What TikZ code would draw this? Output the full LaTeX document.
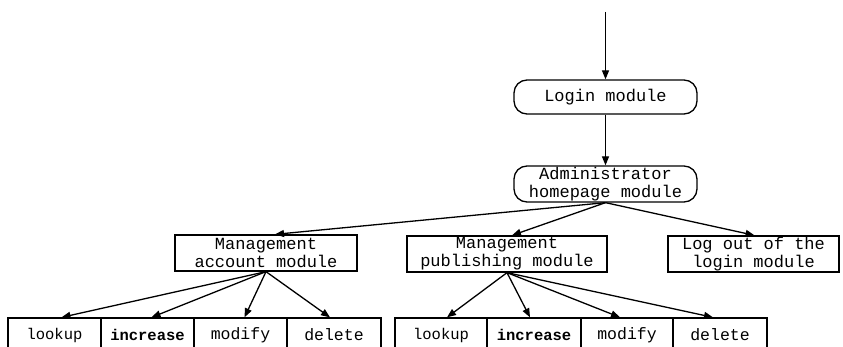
\documentclass[tikz,border=0pt]{standalone}
\usepackage{fontspec}
\setmonofont{Liberation Mono}
\usetikzlibrary{arrows.meta}
\tikzset{
  box/.style={draw=black, line width=1.3pt, rectangle, inner sep=0pt, align=center,
    font=\ttfamily\fontsize{17}{18}\selectfont, text=black},
  roundbox/.style={box, rounded corners=13pt},
  leaf/.style={draw=black, line width=1.3pt, rectangle, inner sep=0pt,
    minimum height=34pt, font=\ttfamily\fontsize{16.5}{18}\selectfont},
  small/.style={font=\ttfamily\fontsize{15.5}{18}\selectfont},
  link/.style={draw=black, line width=1.3pt, -{Triangle[length=9pt,width=7pt]}}
}
\begin{document}
\begin{tikzpicture}[x=1pt, y=-1pt]
\useasboundingbox (0,0) rectangle (843,347);
\begin{scope}
\clip (0,0) rectangle (843,347);
\fill[white] (0,0) rectangle (843,347);

% main chain
\coordinate (entry) at (605.5,12);
\node[roundbox, minimum width=183pt, minimum height=34pt] (login) at (605.5,97) {Login module};
\node[roundbox, minimum width=183pt, minimum height=36pt] (admin) at (605.5,184) {Administrator\\homepage module};

% second level
\node[box, minimum width=182pt, minimum height=36pt] (acct) at (266,253) {Management\\account module};
\node[box, minimum width=200pt, minimum height=36pt] (pub) at (507,254) {Management\\publishing module};
\node[box, minimum width=171pt, minimum height=36pt] (logout) at (753.5,254) {Log out of the\\login module};

% account operations
\node[leaf, small, minimum width=93pt] (alook) at (54.5,335) {lookup};
\node[leaf, small, minimum width=93pt] (ainc) at (147.5,335) {\bfseries increase};
\node[leaf, minimum width=93pt] (amod) at (240.5,335) {modify};
\node[leaf, minimum width=94pt] (adel) at (334,335) {delete};

% publishing operations
\node[leaf, small, minimum width=92pt] (plook) at (441,335) {lookup};
\node[leaf, small, minimum width=94pt] (pinc) at (534,335) {\bfseries increase};
\node[leaf, minimum width=92pt] (pmod) at (627,335) {modify};
\node[leaf, minimum width=94pt] (pdel) at (720,335) {delete};

% connectors
\draw[link] (entry) -- (login.north);
\draw[link] (login.south) -- (admin.north);
\draw[link] (admin.south) -- ([xshift=9pt]acct.north);
\draw[link] (admin.south) -- ([xshift=5pt]pub.north);
\draw[link] (admin.south) -- ([xshift=1pt]logout.north);

\draw[link] (acct.south) -- ([xshift=7pt]alook.north);
\draw[link] (acct.south) -- ([xshift=4pt]ainc.north);
\draw[link] (acct.south) -- ([xshift=4pt]amod.north);
\draw[link] (acct.south) -- ([xshift=-4pt]adel.north);

\draw[link] (pub.south) -- ([xshift=6pt]plook.north);
\draw[link] (pub.south) -- ([xshift=-4pt]pinc.north);
\draw[link] (pub.south) -- ([xshift=-7pt]pmod.north);
\draw[link] (pub.south) -- ([xshift=-7pt]pdel.north);
\end{scope}
\end{tikzpicture}
\end{document}
